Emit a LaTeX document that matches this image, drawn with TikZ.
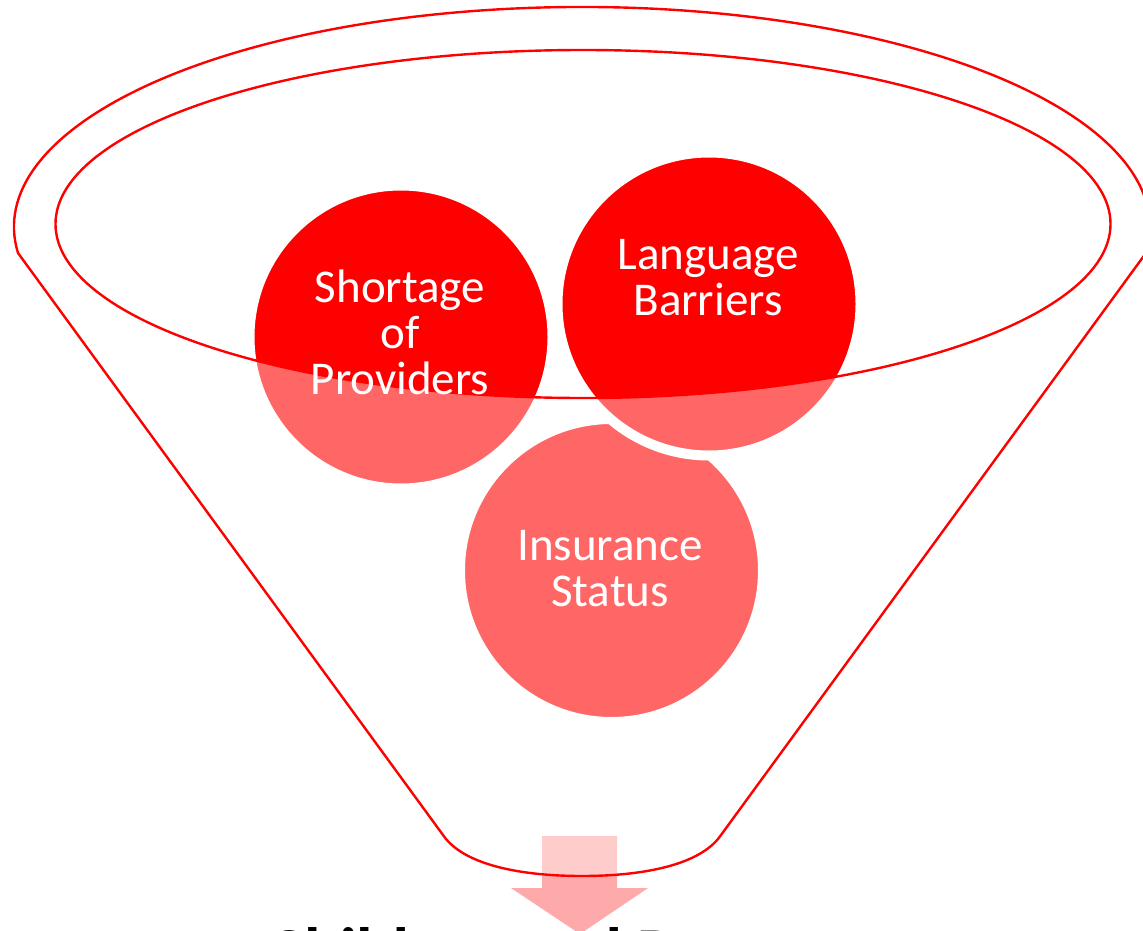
\documentclass[tikz,border=0pt]{standalone}
\usepackage{fontspec}
\setmainfont{Carlito}
\definecolor{fred}{RGB}{255,0,0}
\definecolor{farrow}{RGB}{255,170,170}
\begin{document}
\begin{tikzpicture}[x=1pt,y=-1pt,
  ball/.style={circle, fill=fred, draw=white, line width=10pt, minimum size=303pt, inner sep=0pt},
  balltext/.style={text=white, align=center, font=\fontsize{47}{46}\selectfont, inner sep=0pt},
  funnelline/.style={draw=fred, line width=2.4pt},
  bottomtext/.style={text=black, font=\fontsize{67}{72}\selectfont\bfseries, inner sep=0pt, anchor=base}]
\useasboundingbox (0,0) rectangle (1143,931);
\clip (0,0) rectangle (1143,931);
\fill[white] (0,0) rectangle (1143,931);
% bottom text (cut by the lower edge, as in the reference)
\node[bottomtext] (bottomT) at (579,974) {Children and Pregnant};
% arrow
\fill[farrow] (542,836) -- (617,836) -- (617,888) -- (648,888) -- (580,934) -- (511,888) -- (542,888) -- cycle;
% circles
\node[ball] (ins) at (611.5,570.5) {};
\node[ball] (short) at (401,337) {};
\node[ball] (lang) at (709,304) {};
% funnel body overlay
\fill[white, fill opacity=0.4, even odd rule]
  (18,253) arc[start angle=173.2, end angle=366.8, x radius=568, y radius=220]
  -- (721,835) .. controls (700,866) and (640,876) .. (582,876)
  .. controls (524,876) and (464,866) .. (443,835) -- cycle
  (583,224) ellipse [x radius=527.5, y radius=174];
% funnel outlines
\draw[funnelline]
  (18,253) arc[start angle=173.2, end angle=366.8, x radius=568, y radius=220]
  -- (721,835) .. controls (700,866) and (640,876) .. (582,876)
  .. controls (524,876) and (464,866) .. (443,835) -- cycle;
\draw[funnelline] (583,224) ellipse [x radius=527.5, y radius=174];
% texts
\node[balltext] (shortT) at (400,332) {Shortage\\of\\Providers};
\node[balltext] (langT) at (708,278) {Language\\Barriers};
\node[balltext] (insT) at (610,569) {Insurance\\Status};
\end{tikzpicture}
\end{document}
